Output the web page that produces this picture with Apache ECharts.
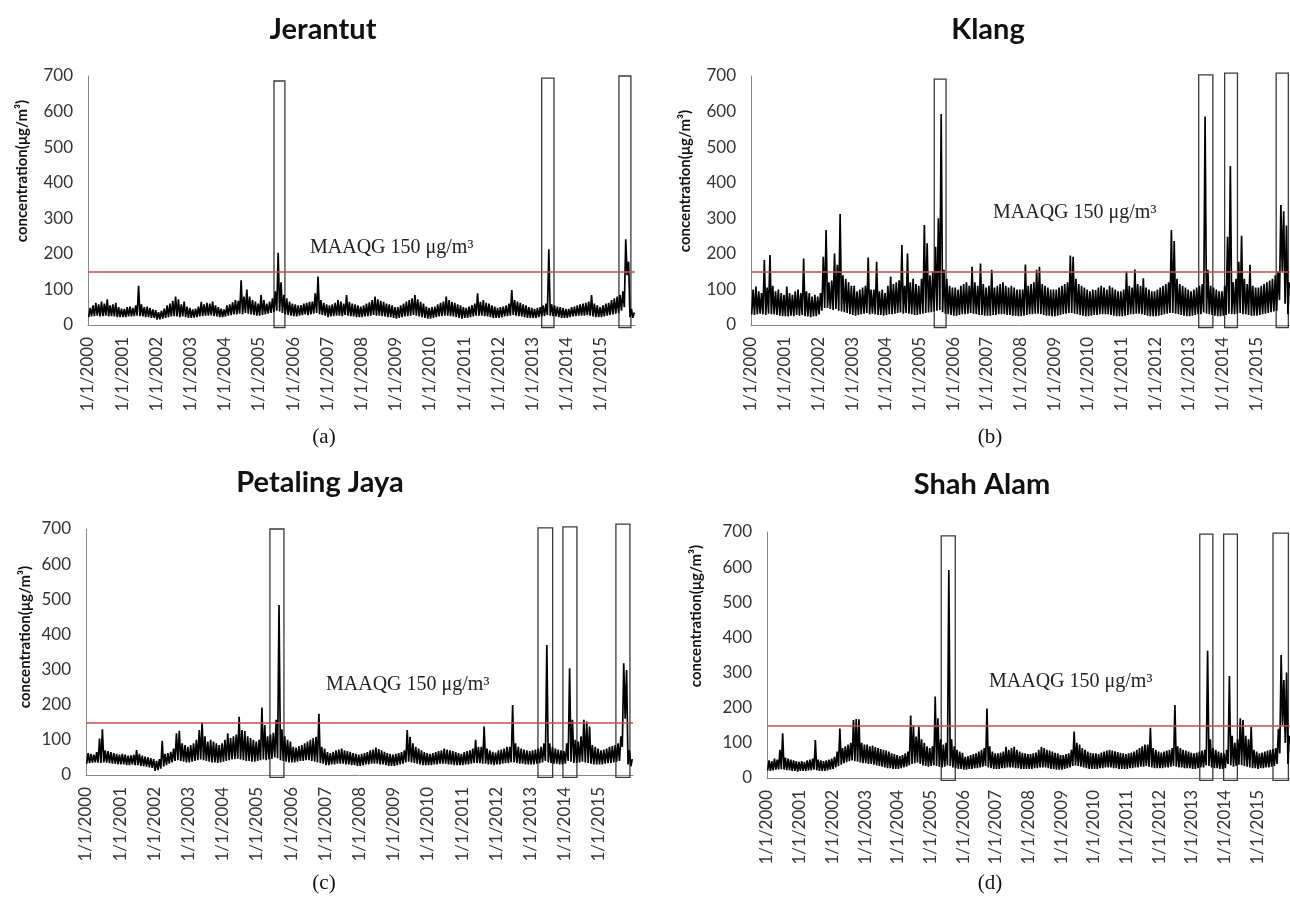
<!DOCTYPE html>
<html>
<head>
<meta charset="utf-8">
<script src="https://cdn.jsdelivr.net/npm/echarts@6.0.0/dist/echarts.min.js"></script>
<style>
    html, body { margin: 0; padding: 0; background: #fff; }
    #chart { width: 1290px; height: 900px; }
</style>
</head>
<body>
<div id="chart"></div>
<script>
// PM10 daily concentration, read per month as low / high of the daily trace (2000-2015)
var startYear = 2000;
var guideline = 150;   // MAAQG limit
var boxBottom = -7;    // haze boxes run a little below the axis

// Jerantut
var jerHi = [
    48, 55, 62, 58, 66, 60, 72, 55, 58, 62, 50, 46,
    45, 50, 52, 48, 55, 110, 58, 50, 52, 48, 44, 42,
    36, 40, 46, 55, 60, 68, 80, 72, 58, 66, 52, 48,
    44, 46, 52, 65, 58, 62, 60, 66, 55, 50, 46, 44,
    55, 58, 64, 70, 68, 126, 80, 100, 80, 70, 66, 60,
    84, 70, 60, 66, 75, 95, 203, 120, 85, 75, 66, 60,
    58, 55, 56, 60, 62, 65, 66, 89, 136, 70, 62, 58,
    55, 58, 62, 70, 66, 60, 84, 65, 60, 58, 55, 52,
    55, 60, 64, 70, 80, 72, 68, 65, 60, 58, 55, 50,
    50, 55, 60, 66, 70, 75, 84, 72, 65, 60, 52, 48,
    50, 52, 58, 62, 66, 80, 70, 65, 62, 58, 55, 50,
    48, 52, 56, 60, 89, 65, 70, 62, 60, 55, 52, 48,
    50, 52, 55, 60, 98, 70, 66, 62, 58, 55, 50, 48,
    45, 48, 50, 55, 60, 213, 58, 55, 52, 50, 48, 45,
    45, 50, 52, 55, 58, 60, 62, 66, 84, 60, 55, 50,
    55, 60, 62, 70, 75, 80, 85, 95, 241, 178, 45, 35
];
var jerLo = [
    22, 24, 25, 26, 24, 25, 26, 24, 25, 24, 22, 22,
    22, 22, 24, 24, 25, 26, 25, 24, 22, 22, 20, 20,
    15, 16, 18, 20, 22, 24, 25, 24, 22, 24, 22, 20,
    20, 21, 22, 24, 25, 26, 26, 27, 25, 24, 22, 22,
    24, 26, 28, 30, 30, 32, 30, 34, 32, 30, 28, 26,
    26, 28, 30, 32, 34, 36, 40, 38, 34, 30, 28, 26,
    25, 24, 26, 28, 30, 28, 30, 32, 34, 30, 28, 26,
    22, 24, 25, 26, 26, 25, 28, 26, 25, 24, 22, 22,
    22, 24, 25, 26, 28, 26, 26, 25, 24, 22, 22, 20,
    18, 20, 22, 24, 25, 26, 28, 26, 24, 22, 20, 18,
    18, 20, 22, 24, 25, 26, 26, 25, 24, 22, 20, 18,
    20, 20, 22, 24, 26, 26, 26, 25, 24, 22, 20, 20,
    20, 22, 24, 25, 26, 28, 26, 25, 24, 22, 20, 20,
    20, 20, 22, 24, 25, 28, 26, 25, 24, 22, 20, 20,
    20, 22, 24, 25, 26, 26, 26, 28, 26, 24, 22, 22,
    22, 24, 26, 28, 30, 32, 34, 40, 50, 140, 22, 20
];
var jerBoxes = [[2005.44, 2005.76, 686], [2013.27, 2013.63, 694], [2015.53, 2015.88, 700]];

// Klang
var klaHi = [
    100, 108, 95, 90, 183, 105, 197, 110, 95, 100, 90, 85,
    108, 90, 85, 95, 100, 90, 187, 95, 90, 80, 85, 80,
    90, 192, 267, 120, 125, 201, 169, 312, 140, 130, 120, 110,
    110, 95, 100, 105, 110, 190, 100, 100, 178, 95, 100, 90,
    110, 136, 115, 120, 126, 225, 110, 201, 120, 130, 115, 110,
    130, 281, 230, 140, 150, 220, 300, 593, 155, 130, 110, 105,
    105, 100, 110, 115, 120, 110, 164, 120, 110, 173, 115, 105,
    110, 155, 105, 110, 115, 120, 110, 105, 110, 105, 100, 100,
    100, 170, 110, 115, 120, 155, 164, 115, 110, 105, 100, 100,
    100, 105, 110, 115, 120, 195, 192, 130, 115, 110, 105, 100,
    95, 100, 98, 105, 110, 105, 100, 110, 105, 100, 95, 95,
    100, 150, 110, 105, 156, 115, 110, 131, 105, 100, 95, 95,
    100, 105, 110, 115, 120, 267, 236, 130, 115, 110, 105, 100,
    95, 100, 105, 110, 115, 586, 155, 110, 105, 100, 95, 95,
    110, 248, 447, 120, 130, 178, 251, 130, 115, 169, 110, 105,
    105, 110, 115, 120, 125, 130, 140, 150, 337, 320, 280, 120
];
var klaLo = [
    30, 28, 30, 32, 30, 28, 32, 30, 30, 28, 26, 25,
    25, 24, 26, 25, 28, 26, 28, 25, 24, 22, 24, 25,
    30, 40, 48, 48, 45, 42, 45, 40, 38, 36, 34, 30,
    28, 26, 28, 30, 32, 34, 30, 32, 30, 28, 28, 26,
    28, 30, 30, 32, 34, 35, 32, 34, 32, 30, 28, 28,
    30, 32, 34, 35, 36, 38, 40, 42, 36, 32, 30, 28,
    26, 26, 28, 30, 30, 32, 34, 32, 30, 28, 28, 26,
    26, 26, 28, 28, 30, 30, 30, 28, 28, 26, 26, 25,
    25, 26, 28, 30, 30, 32, 32, 30, 28, 26, 26, 25,
    25, 26, 28, 30, 32, 34, 34, 32, 30, 28, 26, 25,
    25, 26, 28, 28, 30, 30, 30, 30, 28, 26, 25, 25,
    25, 26, 28, 30, 30, 32, 32, 30, 28, 26, 25, 25,
    25, 26, 28, 30, 32, 34, 34, 32, 30, 28, 26, 25,
    25, 26, 28, 30, 30, 35, 32, 30, 28, 26, 25, 25,
    26, 28, 32, 30, 30, 32, 34, 30, 30, 28, 26, 26,
    26, 28, 30, 32, 34, 36, 38, 40, 70, 150, 60, 30
];
var klaBoxes = [[2005.44, 2005.79, 691], [2013.29, 2013.71, 703], [2014.06, 2014.44, 708], [2015.59, 2015.95, 708]];

// Petaling Jaya
var pjHi = [
    62, 60, 58, 65, 104, 130, 70, 68, 65, 62, 60, 58,
    60, 58, 55, 56, 58, 71, 60, 55, 52, 50, 48, 45,
    40, 45, 97, 60, 62, 66, 75, 119, 126, 90, 85, 80,
    85, 90, 100, 128, 150, 110, 95, 100, 95, 90, 85, 90,
    100, 119, 105, 110, 115, 166, 128, 125, 110, 105, 100, 95,
    100, 192, 142, 110, 115, 120, 157, 484, 130, 110, 100, 95,
    80, 78, 82, 85, 90, 95, 100, 105, 109, 174, 80, 75,
    65, 62, 66, 70, 72, 75, 70, 68, 66, 62, 60, 58,
    60, 62, 65, 70, 72, 78, 74, 70, 66, 62, 60, 58,
    60, 62, 65, 70, 128, 109, 90, 80, 75, 70, 65, 62,
    60, 62, 65, 68, 70, 75, 72, 70, 68, 65, 62, 60,
    65, 68, 70, 75, 100, 80, 80, 138, 75, 70, 66, 64,
    70, 72, 75, 80, 80, 199, 90, 80, 75, 72, 70, 68,
    70, 72, 75, 80, 90, 370, 90, 80, 75, 72, 70, 68,
    90, 304, 157, 100, 95, 110, 157, 152, 138, 85, 80, 75,
    70, 72, 75, 80, 82, 85, 90, 110, 318, 299, 70, 45
];
var pjLo = [
    32, 34, 35, 36, 35, 34, 36, 35, 34, 32, 32, 30,
    30, 30, 28, 28, 30, 28, 28, 26, 25, 24, 22, 20,
    12, 14, 18, 24, 28, 32, 36, 40, 42, 40, 38, 36,
    36, 38, 40, 42, 44, 42, 40, 38, 36, 36, 34, 36,
    38, 40, 42, 44, 45, 46, 44, 42, 40, 40, 38, 38,
    40, 42, 44, 42, 44, 46, 50, 48, 42, 40, 38, 36,
    36, 36, 38, 40, 40, 42, 42, 40, 38, 36, 34, 32,
    28, 28, 30, 30, 32, 32, 32, 30, 30, 28, 28, 26,
    26, 28, 30, 30, 32, 32, 32, 30, 30, 28, 26, 26,
    26, 28, 30, 32, 36, 38, 36, 34, 32, 30, 28, 28,
    28, 28, 30, 30, 32, 32, 32, 30, 30, 28, 28, 28,
    28, 30, 30, 32, 34, 34, 34, 32, 32, 30, 30, 28,
    30, 30, 32, 34, 34, 36, 36, 34, 32, 32, 30, 30,
    30, 30, 32, 34, 36, 40, 36, 34, 32, 32, 30, 30,
    32, 40, 38, 34, 34, 36, 38, 36, 34, 32, 30, 30,
    30, 30, 32, 34, 34, 36, 38, 40, 80, 160, 30, 25
];
var pjBoxes = [[2005.38, 2005.79, 700], [2013.22, 2013.65, 703], [2013.95, 2014.36, 706], [2015.50, 2015.91, 714]];

// Shah Alam
var saHi = [
    50, 48, 55, 52, 80, 127, 58, 55, 52, 50, 48, 46,
    48, 46, 50, 52, 55, 108, 52, 50, 48, 50, 52, 55,
    60, 75, 141, 85, 90, 95, 100, 165, 168, 167, 100, 95,
    95, 90, 92, 88, 85, 82, 80, 78, 75, 70, 68, 65,
    62, 65, 70, 75, 178, 150, 118, 146, 110, 100, 90, 85,
    90, 232, 170, 110, 95, 100, 592, 110, 90, 80, 75, 72,
    60, 62, 65, 68, 70, 75, 80, 85, 198, 90, 75, 70,
    70, 72, 75, 89, 80, 85, 89, 80, 75, 72, 70, 68,
    68, 70, 72, 80, 89, 85, 80, 78, 75, 72, 70, 65,
    65, 68, 70, 80, 132, 100, 95, 85, 80, 75, 72, 70,
    70, 68, 72, 75, 78, 80, 78, 76, 74, 72, 70, 68,
    70, 72, 75, 80, 85, 90, 95, 95, 143, 85, 80, 75,
    72, 75, 78, 80, 85, 208, 90, 85, 80, 78, 75, 72,
    70, 72, 75, 78, 80, 362, 110, 85, 80, 75, 72, 70,
    80, 290, 120, 100, 110, 170, 165, 120, 110, 146, 80, 75,
    70, 72, 75, 78, 80, 82, 85, 140, 350, 279, 300, 120
];
var saLo = [
    22, 20, 22, 24, 24, 25, 24, 22, 22, 20, 20, 18,
    20, 20, 20, 22, 22, 24, 22, 20, 20, 20, 22, 24,
    26, 30, 34, 38, 42, 45, 48, 50, 48, 46, 44, 42,
    42, 40, 40, 38, 36, 34, 32, 30, 28, 28, 26, 26,
    26, 28, 30, 32, 36, 40, 42, 44, 40, 36, 34, 32,
    34, 36, 34, 32, 30, 32, 36, 34, 30, 28, 26, 26,
    24, 24, 26, 26, 28, 28, 30, 32, 34, 30, 28, 26,
    26, 26, 28, 28, 30, 30, 30, 28, 28, 26, 26, 26,
    26, 26, 28, 28, 30, 30, 30, 28, 26, 26, 24, 24,
    24, 26, 28, 30, 34, 36, 34, 32, 30, 28, 26, 26,
    26, 26, 28, 28, 30, 30, 30, 28, 28, 26, 26, 26,
    26, 28, 28, 30, 30, 32, 32, 34, 32, 30, 28, 28,
    28, 28, 30, 30, 32, 34, 32, 30, 30, 28, 28, 28,
    26, 26, 28, 30, 30, 36, 34, 30, 28, 28, 26, 26,
    28, 40, 36, 32, 34, 38, 36, 34, 32, 30, 28, 28,
    26, 28, 28, 30, 30, 32, 34, 40, 70, 150, 100, 40
];
var saBoxes = [[2005.33, 2005.76, 689], [2013.24, 2013.64, 694], [2013.97, 2014.39, 694], [2015.48, 2015.95, 697]];

// low and high of each month become two points of the trace
function monthly(lo, hi) {
    var out = [];
    for (var m = 0; m < hi.length; m++) {
        out.push([startYear + (m + 0.25) / 12, lo[m]]);
        out.push([startYear + (m + 0.75) / 12, hi[m]]);
    }
    return out;
}

var panels = [
    { title: 'Jerantut', tag: '(a)', lo: jerLo, hi: jerHi, boxes: jerBoxes,
      grid: { left: 88, top: 76, width: 547, height: 249 },
      titlePos: [323, 30], namePos: [22, 171], notePos: [310, 248], tagPos: [324, 437] },
    { title: 'Klang', tag: '(b)', lo: klaLo, hi: klaHi, boxes: klaBoxes,
      grid: { left: 751, top: 76, width: 544, height: 249 },
      titlePos: [988, 30], namePos: [685, 181], notePos: [993, 213], tagPos: [990, 437] },
    { title: 'Petaling Jaya', tag: '(c)', lo: pjLo, hi: pjHi, boxes: pjBoxes,
      grid: { left: 86, top: 529, width: 547, height: 246 },
      titlePos: [320, 483], namePos: [25, 637], notePos: [326, 685], tagPos: [324, 883] },
    { title: 'Shah Alam', tag: '(d)', lo: saLo, hi: saHi, boxes: saBoxes,
      grid: { left: 767, top: 532, width: 528, height: 246 },
      titlePos: [982, 485], namePos: [696, 616], notePos: [989, 682], tagPos: [990, 883] }
];

var myChart = echarts.init(document.getElementById('chart'));

var grids = [], xAxes = [], yAxes = [], series = [], texts = [];

panels.forEach(function (p, i) {
    grids.push(p.grid);
    xAxes.push({
        type: 'value',
        gridIndex: i,
        min: 2000,
        max: 2016,
        interval: 1,
        axisLine: { lineStyle: { color: '#868686', width: 1 } },
        axisTick: { show: false },
        splitLine: { show: false },
        axisLabel: {
            rotate: 90,
            margin: 12,
            fontFamily: 'Lato',
            fontSize: 17,
            color: '#333',
            formatter: function (v) { return v < 2016 ? '1/1/' + v : ''; }
        }
    });
    yAxes.push({
        type: 'value',
        gridIndex: i,
        min: 0,
        max: 700,
        interval: 100,
        axisLine: { show: true, lineStyle: { color: '#868686', width: 1 } },
        axisTick: { show: false },
        splitLine: { show: false },
        axisLabel: { margin: 15, fontFamily: 'Lato', fontSize: 17, color: '#333' }
    });
    series.push({
        type: 'line',
        xAxisIndex: i,
        yAxisIndex: i,
        data: monthly(p.lo, p.hi),
        symbol: 'none',
        lineStyle: { color: '#000', width: 1.7 },
        markLine: {
            silent: true,
            symbol: 'none',
            label: { show: false },
            lineStyle: { color: '#c0504d', width: 1.5, type: 'solid' },
            data: [{ yAxis: guideline }]
        }
    });
    // haze episode boxes
    series.push({
        type: 'custom',
        xAxisIndex: i,
        yAxisIndex: i,
        silent: true,
        clip: false,
        encode: { x: [0, 1], y: 2 },
        data: p.boxes,
        renderItem: function (params, api) {
            var a = api.coord([api.value(0), api.value(2)]);
            var b = api.coord([api.value(1), boxBottom]);
            return {
                type: 'rect',
                shape: { x: a[0], y: a[1], width: b[0] - a[0], height: b[1] - a[1] },
                style: { fill: 'none', stroke: '#3a3a3a', lineWidth: 1.3 }
            };
        }
    });

    texts.push({
        type: 'text', x: p.titlePos[0], y: p.titlePos[1],
        style: { text: p.title, fontFamily: 'Lato', fontWeight: 'bold', fontSize: 29, fill: '#111',
                 textAlign: 'center', textVerticalAlign: 'middle' }
    });
    texts.push({
        type: 'text', x: p.namePos[0], y: p.namePos[1], rotation: Math.PI / 2,
        style: { text: 'concentration(μg/m³)', fontFamily: 'Lato', fontWeight: 'bold', fontSize: 15, fill: '#111',
                 textAlign: 'center', textVerticalAlign: 'middle' }
    });
    texts.push({
        type: 'text', x: p.notePos[0], y: p.notePos[1],
        style: { text: 'MAAQG 150 μg/m³', fontFamily: 'Liberation Serif', fontSize: 20, fill: '#222',
                 textAlign: 'left', textVerticalAlign: 'middle' }
    });
    texts.push({
        type: 'text', x: p.tagPos[0], y: p.tagPos[1],
        style: { text: p.tag, fontFamily: 'Liberation Serif', fontSize: 21, fill: '#111',
                 textAlign: 'center', textVerticalAlign: 'middle' }
    });
});

var option = {
    animation: false,
    backgroundColor: '#fff',
    grid: grids,
    xAxis: xAxes,
    yAxis: yAxes,
    series: series,
    graphic: texts
};
myChart.setOption(option);

window.addEventListener('resize', function () {
    myChart.resize();
});
</script>
</body>
</html>
